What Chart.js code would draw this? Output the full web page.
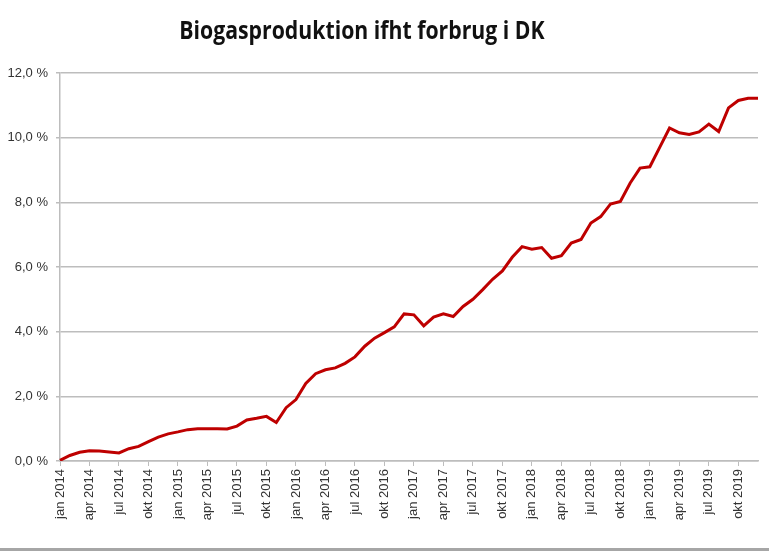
<!DOCTYPE html>
<html>
<head>
<meta charset="utf-8">
<script src="https://cdn.jsdelivr.net/npm/chart.js@4"></script>
<style>
  html, body { margin: 0; padding: 0; background: #fff; }
  #wrap { position: relative; width: 769px; height: 553px; overflow: hidden; }
  #title {
    position: absolute; left: 0; top: 12px; width: 724px; text-align: center;
    font-family: "Open Sans", sans-serif; font-weight: 700; font-size: 25px; color: #111;
    transform: scaleX(0.85); transform-origin: 362px 0; white-space: nowrap;
  }
  #bottomline { position: absolute; left: 0; top: 548px; width: 769px; height: 3px; background: #a6a6a6; }
  canvas { position: absolute; left: 0; top: 0; }
</style>
</head>
<body>
<div id="wrap">
  <canvas id="c" width="769" height="553"></canvas>
  <div id="title">Biogasproduktion ifht forbrug i DK</div>
  <div id="bottomline"></div>
</div>
<script>
const monthNames = ['jan','feb','mar','apr','maj','jun','jul','aug','sep','okt','nov','dec'];
const years = [2014, 2015, 2016, 2017, 2018, 2019];
const labeledMonths = ['jan','apr','jul','okt'];
const categories = [];
years.forEach(y => monthNames.forEach(m => categories.push(m + ' ' + y)));

// Biogas share of consumption (%), monthly
const values2014 = [0.02, 0.17, 0.27, 0.32, 0.31, 0.28, 0.25, 0.38, 0.45, 0.60, 0.74, 0.84];
const values2015 = [0.90, 0.97, 1.00, 1.00, 1.00, 0.99, 1.08, 1.27, 1.32, 1.38, 1.19, 1.65];
const values2016 = [1.90, 2.40, 2.70, 2.82, 2.88, 3.02, 3.22, 3.55, 3.80, 3.97, 4.15, 4.55];
const values2017 = [4.52, 4.18, 4.45, 4.55, 4.47, 4.78, 5.00, 5.30, 5.62, 5.88, 6.30, 6.63];
const values2018 = [6.55, 6.60, 6.27, 6.35, 6.74, 6.85, 7.36, 7.56, 7.95, 8.03, 8.60, 9.06];
const values2019 = [9.10, 9.70, 10.30, 10.15, 10.10, 10.18, 10.42, 10.19, 10.92, 11.15, 11.22, 11.22];
const seriesValues = [].concat(values2014, values2015, values2016, values2017, values2018, values2019);

const yTicks = [0, 2, 4, 6, 8, 10, 12];

new Chart(document.getElementById('c'), {
  type: 'line',
  data: {
    labels: categories,
    datasets: [{
      data: seriesValues,
      borderColor: '#be0000',
      borderWidth: 3,
      pointRadius: 0,
      tension: 0,
      fill: false
    }]
  },
  options: {
    responsive: false,
    animation: false,
    devicePixelRatio: 1,
    layout: { padding: { top: 73, right: 11, left: 0, bottom: 0 } },
    plugins: { legend: { display: false }, title: { display: false }, tooltip: { enabled: false } },
    scales: {
      x: {
        type: 'category',
        offset: false,
        grid: { drawOnChartArea: false, drawTicks: true, tickLength: 5, color: '#bdbdbd' },
        border: { display: true, color: '#bdbdbd', width: 1.5 },
        ticks: {
          autoSkip: false, maxRotation: 90, minRotation: 90, padding: 3,
          color: '#333333',
          font: { family: 'Liberation Sans', size: 13 },
          callback: function (v, i) {
            const m = monthNames[i % 12];
            return labeledMonths.includes(m) ? categories[i] : null;
          }
        },
        afterFit: function (s) { s.height = 92; }
      },
      y: {
        min: 0, max: 12,
        afterBuildTicks: function (s) { s.ticks = yTicks.map(v => ({ value: v })); },
        grid: { color: '#bdbdbd', lineWidth: 1.5, tickLength: 4 },
        border: { display: true, color: '#bdbdbd', width: 1.5 },
        ticks: {
          padding: 8,
          color: '#333333',
          font: { family: 'Liberation Sans Narrow, Liberation Sans', size: 13 },
          callback: v => v.toFixed(1).replace('.', ',') + ' %'
        },
        afterFit: function (s) { s.width = 60; }
      }
    }
  }
});
</script>
</body>
</html>
